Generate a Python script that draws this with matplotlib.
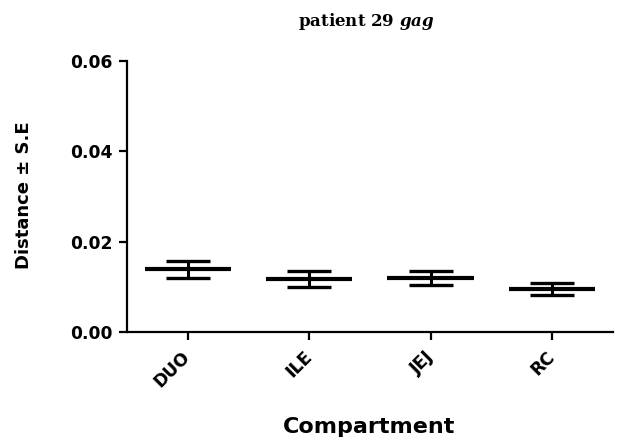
import matplotlib
matplotlib.use("Agg")
import matplotlib.pyplot as plt
import matplotlib.transforms as mtransforms
import numpy as np

categories = ["DUO", "ILE", "JEJ", "RC"]
means = [0.0139, 0.0117, 0.0119, 0.0095]
upper = [0.0157, 0.0135, 0.0135, 0.0109]
lower = [0.0119, 0.0100, 0.0104, 0.0083]
yticks = [0.00, 0.02, 0.04, 0.06]

plt.rcParams['mathtext.fontset'] = 'custom'
plt.rcParams['mathtext.it'] = 'DejaVu Serif:italic:bold'
plt.rcParams['mathtext.rm'] = 'DejaVu Serif:bold'

fig = plt.figure(figsize=(6.19, 4.40), dpi=100)
ax = fig.add_axes([0.205, 0.2455, 0.785, 0.6155])

x = np.arange(len(categories))
m = np.array(means)
err = [m - np.array(lower), np.array(upper) - m]
ax.errorbar(x, m, yerr=err, fmt='none', ecolor='black', elinewidth=2.2,
            capsize=16, capthick=2.4, zorder=3)
ax.hlines(m, x - 0.355, x + 0.355, colors='black', linewidth=3.0, zorder=4)

sans = 'DejaVu Sans'
ax.set_xlim(-0.5, 3.5)
ax.set_ylim(0, 0.06)
ax.set_yticks(yticks)
ax.set_yticklabels([f"{v:.2f}" for v in yticks], fontfamily=sans,
                   fontweight='bold', fontsize=12.3)
ax.set_xticks(x)
ax.set_xticklabels(categories, rotation=45, ha='right', va='center',
                   rotation_mode='anchor',
                   fontfamily=sans, fontweight='bold', fontsize=12.3)
shift = mtransforms.ScaledTranslation(-3 / 100, 0, fig.dpi_scale_trans)
for lab in ax.get_xticklabels():
    lab.set_transform(lab.get_transform() + shift)

for s in ['top', 'right']:
    ax.spines[s].set_visible(False)
for s in ['left', 'bottom']:
    ax.spines[s].set_linewidth(1.6)
ax.tick_params(axis='both', direction='out', length=6, width=1.6)
ax.tick_params(axis='y', pad=4.3)
ax.tick_params(axis='x', pad=9.8)

fig.text(24 / 619, 1 - 195 / 440, "Distance ± S.E", rotation=90,
         ha='center', va='center', fontfamily=sans, fontweight='bold',
         fontsize=13)
fig.text(369.5 / 619, 1 - 433 / 440, "Compartment", ha='center',
         va='baseline', fontfamily=sans, fontweight='bold', fontsize=16)

fig.text(366.5 / 619, 1 - 26 / 440, r"patient 29 $\mathit{gag}$", ha='center',
         va='baseline', fontfamily='DejaVu Serif', fontweight='bold',
         fontsize=12)

fig.savefig("out.png", dpi=100)
